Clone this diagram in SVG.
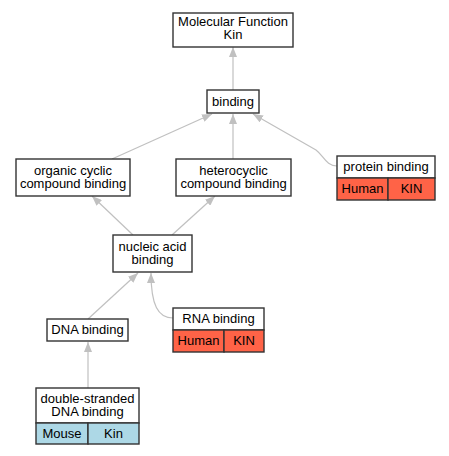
<svg xmlns="http://www.w3.org/2000/svg" width="449" height="456" viewBox="0 0 449 456">
<style>
text{font-family:"Liberation Sans",Arial,sans-serif;font-size:13px;fill:#000;text-anchor:middle}
.box{fill:#fff;stroke:#333;stroke-width:1.4}
.red{fill:#ff6347;stroke:#333;stroke-width:1.4}
.blue{fill:#add8e6;stroke:#333;stroke-width:1.4}
.edge{fill:none;stroke:#c0c0c0;stroke-width:1.2;marker-end:url(#arr)}
</style>
<defs>
<marker id="arr" viewBox="0 0 10 8" refX="10" refY="4" markerWidth="10" markerHeight="8" markerUnits="userSpaceOnUse" orient="auto">
<path d="M0,0 L10,4 L0,8 z" fill="#c0c0c0"/>
</marker>
</defs>
<rect width="449" height="456" fill="#fff"/>
<g id="edges">
<path class="edge" d="M233,90 L233,47"/>
<path class="edge" d="M112,159 L212,114"/>
<path class="edge" d="M233,159 L233,114"/>
<path class="edge" d="M337,166 C326,166 324,156 316,150 L253,114"/>
<path class="edge" d="M133,235 L92,196"/>
<path class="edge" d="M172,235 L215,196"/>
<path class="edge" d="M88,319 L138,273"/>
<path class="edge" d="M173,318 C158,318 151,305 151,273"/>
<path class="edge" d="M88,388 L88,342"/>
</g>
<g id="mf">
<rect class="box" x="173" y="13" width="120" height="34"/>
<text x="233" y="26">Molecular Function</text>
<text x="233" y="39">Kin</text>
</g>
<g id="binding">
<rect class="box" x="207" y="90" width="52" height="23"/>
<text x="233" y="106">binding</text>
</g>
<g id="organic">
<rect class="box" x="16" y="159" width="114" height="37"/>
<text x="73" y="174.5">organic cyclic</text>
<text x="73" y="188">compound binding</text>
</g>
<g id="hetero">
<rect class="box" x="176" y="159" width="115" height="37"/>
<text x="233.5" y="174.5">heterocyclic</text>
<text x="233.5" y="188">compound binding</text>
</g>
<g id="protein">
<rect class="box" x="337" y="156" width="98" height="22"/>
<rect class="red" x="337" y="178" width="51" height="22"/>
<rect class="red" x="388" y="178" width="47" height="22"/>
<text x="386" y="170.5">protein binding</text>
<text x="362.5" y="193">Human</text>
<text x="411.5" y="193">KIN</text>
</g>
<g id="nucleic">
<rect class="box" x="113" y="235" width="79" height="37"/>
<text x="152.5" y="250.5">nucleic acid</text>
<text x="152.5" y="263.5">binding</text>
</g>
<g id="dna">
<rect class="box" x="47" y="319" width="81" height="22"/>
<text x="87.5" y="334">DNA binding</text>
</g>
<g id="rna">
<rect class="box" x="173" y="308" width="91" height="22"/>
<rect class="red" x="173" y="330" width="51" height="22"/>
<rect class="red" x="224" y="330" width="40" height="22"/>
<text x="218.5" y="322.5">RNA binding</text>
<text x="198.5" y="344.5">Human</text>
<text x="244" y="344.5">KIN</text>
</g>
<g id="dsdna">
<rect class="box" x="36" y="388" width="103" height="35"/>
<rect class="blue" x="36" y="423" width="52" height="21"/>
<rect class="blue" x="88" y="423" width="51" height="21"/>
<text x="87.5" y="402.5">double-stranded</text>
<text x="87.5" y="415.5">DNA binding</text>
<text x="62" y="438">Mouse</text>
<text x="113.5" y="438">Kin</text>
</g>
</svg>
